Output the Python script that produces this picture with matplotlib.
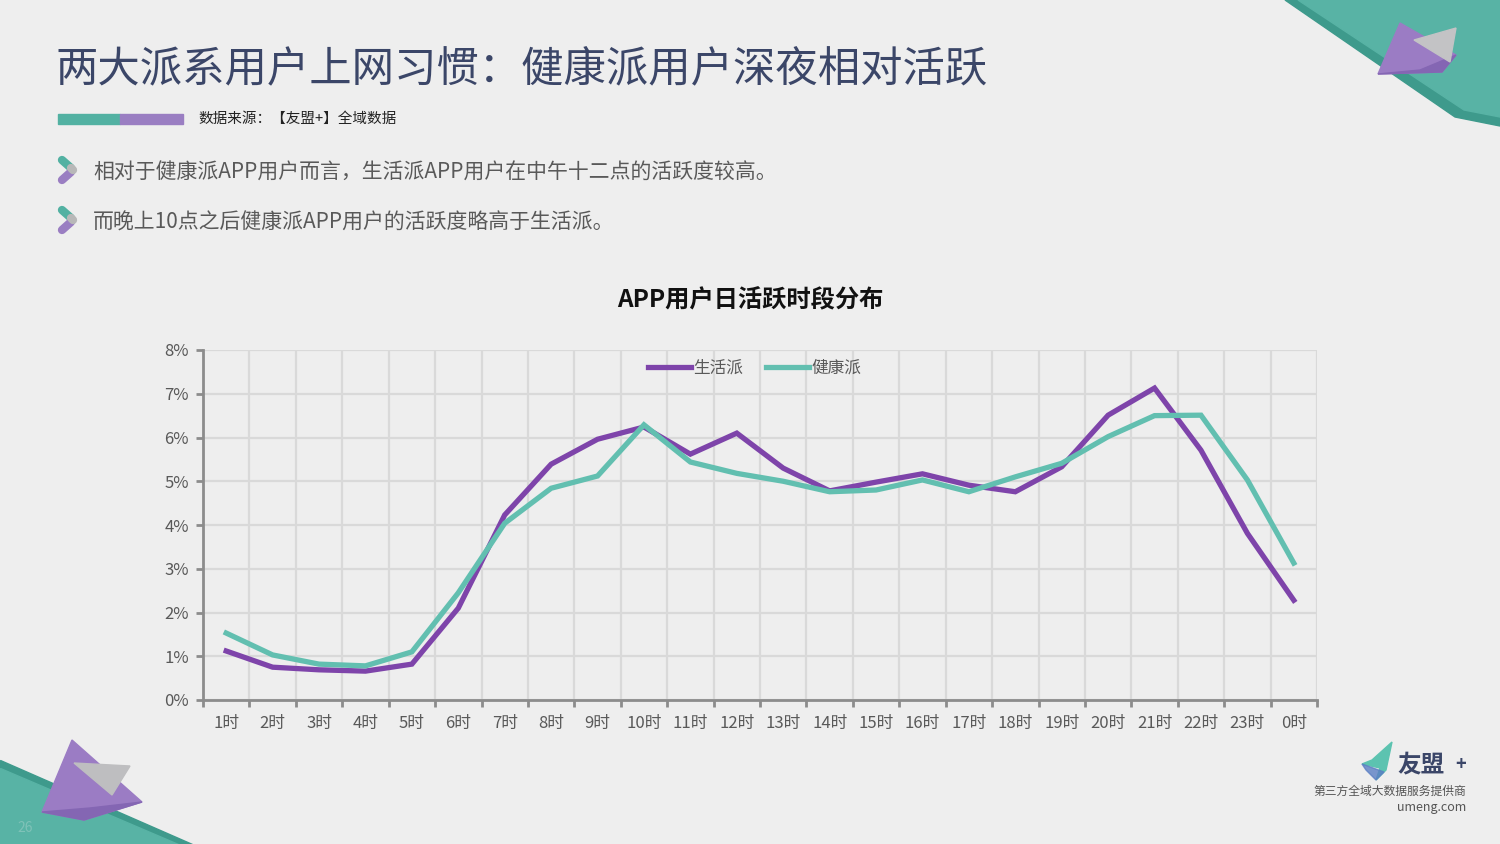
import numpy as np
import matplotlib.pyplot as plt
from matplotlib.patches import Polygon, Rectangle

plt.rcParams['font.family'] = ['Noto Sans CJK SC', 'DejaVu Sans']

# data
hours = ['1时', '2时', '3时', '4时', '5时', '6时', '7时', '8时', '9时', '10时', '11时', '12时',
         '13时', '14时', '15时', '16时', '17时', '18时', '19时', '20时', '21时', '22时', '23时', '0时']
life = [1.12, 0.75, 0.69, 0.66, 0.82, 2.10, 4.23, 5.39, 5.96, 6.24, 5.62, 6.10,
        5.30, 4.78, 4.98, 5.17, 4.91, 4.76, 5.33, 6.51, 7.13, 5.71, 3.81, 2.28]
health = [1.53, 1.03, 0.82, 0.78, 1.10, 2.45, 4.04, 4.84, 5.12, 6.29, 5.44, 5.18,
          5.00, 4.76, 4.80, 5.03, 4.76, 5.10, 5.41, 6.02, 6.50, 6.51, 5.03, 3.13]
series_names = ['生活派', '健康派']
yticks = [0, 1, 2, 3, 4, 5, 6, 7, 8]

bg = '#EEEEEE'
purple = '#7E44AA'
teal = '#62BFB0'
navy = '#3B4668'

fig = plt.figure(figsize=(15, 8.44), dpi=100)
fig.patch.set_facecolor(bg)

# background layer in pixel coordinates
deco = fig.add_axes([0, 0, 1, 1])
deco.set_xlim(0, 1500)
deco.set_ylim(844, 0)
deco.axis('off')
deco.set_facecolor(bg)

# top-right decoration
deco.add_patch(Polygon([(1285, 0), (1500, 0), (1500, 126), (1455, 117)], closed=True,
                       color='#3E9A8C', zorder=1))
deco.add_patch(Polygon([(1298, 0), (1500, 0), (1500, 117), (1464, 110)], closed=True,
                       color='#58B3A5', zorder=2))
deco.add_patch(Polygon([(1400, 23), (1378, 74), (1442, 72), (1456, 55)], closed=True,
                       color='#9B7CC4', zorder=3))
deco.add_patch(Polygon([(1378, 74), (1442, 72), (1456, 55), (1420, 70)], closed=True,
                       color='#8466B3', zorder=4))
deco.add_patch(Polygon([(1414, 40), (1456, 28), (1450, 62)], closed=True,
                       color='#C3C3C5', zorder=5))

# bottom-left decoration
deco.add_patch(Polygon([(0, 760), (0, 844), (192, 844)], closed=True,
                       color='#3E9A8C', zorder=1))
deco.add_patch(Polygon([(0, 768), (0, 844), (178, 844)], closed=True,
                       color='#58B3A5', zorder=2))
deco.add_patch(Polygon([(72, 740), (42, 812), (84, 820), (142, 802)], closed=True,
                       color='#9B7CC4', zorder=3))
deco.add_patch(Polygon([(42, 812), (84, 820), (142, 802), (90, 808)], closed=True,
                       color='#8466B3', zorder=4))
deco.add_patch(Polygon([(74, 763), (130, 766), (112, 795)], closed=True,
                       color='#BEBEC0', zorder=5))
deco.text(25, 828, '26', fontsize=10, color='#7FC2B8', ha='center', va='center', zorder=6)

# title
deco.text(55, 70, '两大派系用户上网习惯：健康派用户深夜相对活跃', fontsize=30.5, color=navy,
          ha='left', va='center', fontweight='medium')
deco.add_patch(Rectangle((58, 114), 62, 10, color='#52B1A2'))
deco.add_patch(Rectangle((120, 114), 63, 10, color='#9A7EC2'))
deco.text(198, 119, '数据来源：【友盟+】全域数据', fontsize=10.5, color='#222222',
          ha='left', va='center', fontweight='medium')

# bullets
bullets = ['相对于健康派APP用户而言，生活派APP用户在中午十二点的活跃度较高。',
           '而晚上10点之后健康派APP用户的活跃度略高于生活派。']
for i, txt in enumerate(bullets):
    yc = 171 + i * 50
    deco.plot([62, 71], [yc - 11, yc - 3], color='#52B1A2', lw=6, solid_capstyle='round')
    deco.plot([71, 62], [yc + 1, yc + 9], color='#9A7EC2', lw=6, solid_capstyle='round')
    deco.plot([71, 73], [yc - 3, yc - 1], color='#B8B8B8', lw=6, solid_capstyle='round')
    deco.text(93, yc + 2, txt, fontsize=15, color='#595959', ha='left', va='center')

# chart title
deco.text(750, 300, 'APP用户日活跃时段分布', fontsize=17.5, color='#111111',
          ha='center', va='center', fontweight='bold')

# logo
deco.add_patch(Polygon([(1392, 742), (1372, 760), (1362, 764), (1380, 768), (1376, 780), (1386, 770)],
                       closed=True, color='#5CC3B0'))
deco.add_patch(Polygon([(1362, 764), (1384, 772), (1376, 780), (1366, 770)], closed=True,
                       color='#5B7FC4', alpha=0.8))
deco.text(1397, 764, '友盟', fontsize=17, color=navy, ha='left', va='center', fontweight='bold')
deco.text(1461, 764, '+', fontsize=13, color=navy, ha='center', va='center', fontweight='bold')
deco.text(1466, 791, '第三方全域大数据服务提供商', fontsize=8.5, color='#555555', ha='right', va='center')
deco.text(1466, 807, 'umeng.com', fontsize=9, color='#555555', ha='right', va='center')

# chart
ax = fig.add_axes([203 / 1500, 144 / 844, 1114 / 1500, 350 / 844])
ax.set_facecolor('none')
x = np.arange(len(hours))
ax.plot(x, life, color=purple, lw=3.8, label=series_names[0], solid_joinstyle='miter', zorder=3)
ax.plot(x, health, color=teal, lw=3.8, label=series_names[1], solid_joinstyle='miter', zorder=3)

ax.set_xlim(-0.5, len(hours) - 0.5)
ax.set_ylim(0, 8)
ax.set_xticks(x)
ax.set_xticklabels(hours)
ax.set_xticks(np.arange(len(hours) + 1) - 0.5, minor=True)
ax.set_yticks(yticks)
ax.set_yticklabels([f'{v}%' for v in yticks])

ax.tick_params(axis='x', which='major', length=0, pad=10.5, labelsize=12, labelcolor='#595959')
ax.tick_params(axis='x', which='minor', length=5, width=2, color='#8C8C8C', direction='out')
ax.tick_params(axis='y', length=5, width=2, color='#8C8C8C', pad=5, labelsize=12, labelcolor='#595959')

ax.grid(True, which='minor', axis='x', color='#D9D9D9', lw=1.6)
ax.grid(True, which='major', axis='y', color='#D9D9D9', lw=1.6)
ax.set_axisbelow(True)
for s in ['top', 'right']:
    ax.spines[s].set_visible(False)
for s in ['left', 'bottom']:
    ax.spines[s].set_color('#8C8C8C')
    ax.spines[s].set_linewidth(2)
    ax.spines[s].set_zorder(4)

leg = ax.legend(loc='upper center', bbox_to_anchor=(0.495, 1.015), ncol=2, frameon=False,
                handlelength=2.6, handletextpad=0.1, columnspacing=1.4, fontsize=12)
for t in leg.get_texts():
    t.set_color('#595959')

fig.savefig('out.png', dpi=100, facecolor=bg)
